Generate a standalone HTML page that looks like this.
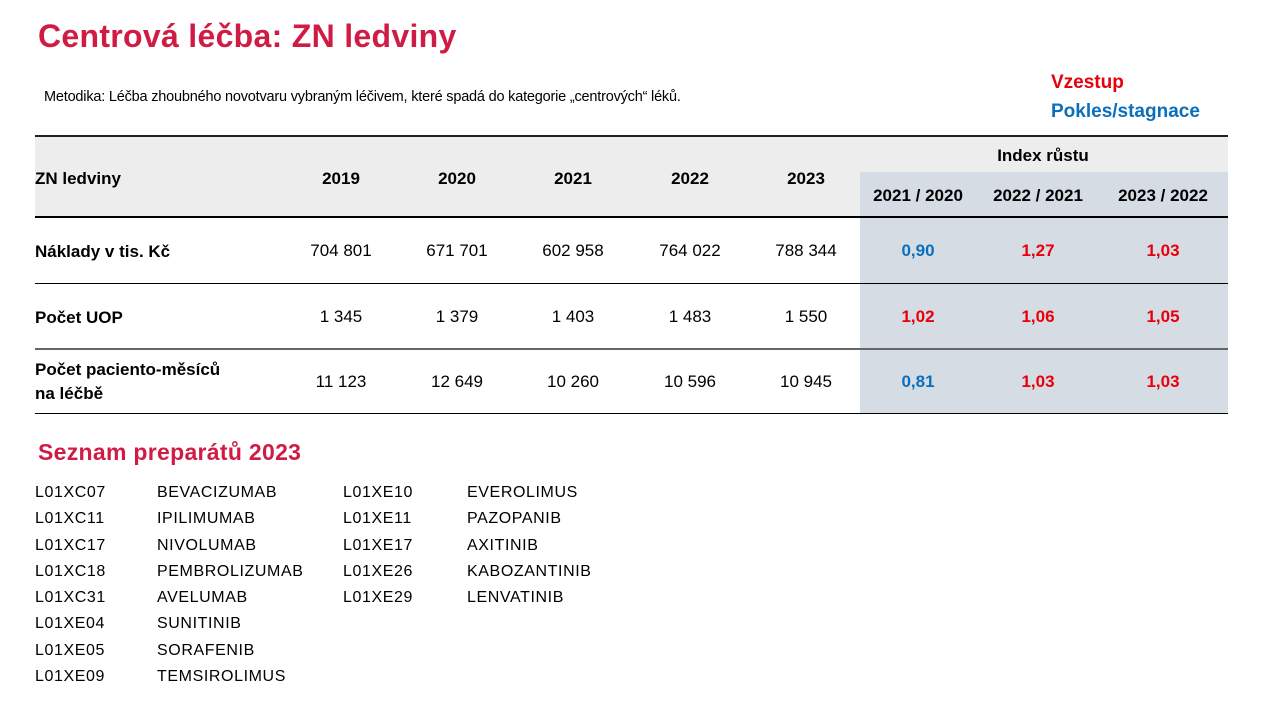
<!DOCTYPE html>
<html><head><meta charset="utf-8"><style>
body{margin:0;width:1280px;height:720px;background:#fff;position:relative;overflow:hidden;font-family:"Liberation Sans",sans-serif;color:#000}
div{position:absolute}
.c{width:130px;text-align:center;height:24px;line-height:24px;font-size:17px}
.b{font-weight:bold}
.red{color:#e8000b}.blue{color:#0a6fbd}
.l{left:35px;font-size:16px;font-weight:bold;line-height:24px}
.d{font-size:16px;height:26px;line-height:26.3px;letter-spacing:0.6px}
</style></head><body>
<div style="left:38px;top:18px;font-size:32px;font-weight:bold;color:#d01c44;letter-spacing:0.3px">Centrová léčba: ZN ledviny</div>
<div style="left:44px;top:89px;font-size:14.5px;letter-spacing:-0.2px">Metodika: Léčba zhoubného novotvaru vybraným léčivem, které spadá do kategorie „centrových“ léků.</div>
<div style="left:1051px;top:72px;font-size:19px;font-weight:bold;color:#e8000b">Vzestup</div>
<div style="left:1051px;top:101px;font-size:19px;font-weight:bold;color:#0a6fbd">Pokles/stagnace</div>

<div style="left:35px;top:136px;width:1193px;height:81px;background:#ededed"></div>
<div style="left:860px;top:172px;width:368px;height:242px;background:#d6dce4"></div>
<div style="left:35px;top:135px;width:1193px;height:2px;background:#222"></div>
<div style="left:35px;top:216px;width:1193px;height:2px;background:#000"></div>
<div style="left:35px;top:283px;width:1193px;height:1px;background:#000"></div>
<div style="left:35px;top:348px;width:1193px;height:2px;background:#666"></div>
<div style="left:35px;top:413px;width:1193px;height:1px;background:#000"></div>

<div class="l" style="top:167px;font-size:17px">ZN ledviny</div>
<div class="c b" style="left:276px;top:167px">2019</div>
<div class="c b" style="left:392px;top:167px">2020</div>
<div class="c b" style="left:508px;top:167px">2021</div>
<div class="c b" style="left:625px;top:167px">2022</div>
<div class="c b" style="left:741px;top:167px">2023</div>
<div class="c b" style="left:978px;top:144px">Index růstu</div>
<div class="c b" style="left:853px;top:184px">2021 / 2020</div>
<div class="c b" style="left:973px;top:184px">2022 / 2021</div>
<div class="c b" style="left:1098px;top:184px">2023 / 2022</div>

<div class="l" style="top:240px;font-size:17px">Náklady v tis. Kč</div>
<div class="c" style="left:276px;top:239px">704 801</div>
<div class="c" style="left:392px;top:239px">671 701</div>
<div class="c" style="left:508px;top:239px">602 958</div>
<div class="c" style="left:625px;top:239px">764 022</div>
<div class="c" style="left:741px;top:239px">788 344</div>
<div class="c b blue" style="left:853px;top:239px">0,90</div>
<div class="c b red" style="left:973px;top:239px">1,27</div>
<div class="c b red" style="left:1098px;top:239px">1,03</div>

<div class="l" style="top:306px;font-size:17px">Počet UOP</div>
<div class="c" style="left:276px;top:305px">1 345</div>
<div class="c" style="left:392px;top:305px">1 379</div>
<div class="c" style="left:508px;top:305px">1 403</div>
<div class="c" style="left:625px;top:305px">1 483</div>
<div class="c" style="left:741px;top:305px">1 550</div>
<div class="c b red" style="left:853px;top:305px">1,02</div>
<div class="c b red" style="left:973px;top:305px">1,06</div>
<div class="c b red" style="left:1098px;top:305px">1,05</div>

<div class="l" style="top:358px;font-size:17px">Počet paciento-měsíců<br>na léčbě</div>
<div class="c" style="left:276px;top:370px">11 123</div>
<div class="c" style="left:392px;top:370px">12 649</div>
<div class="c" style="left:508px;top:370px">10 260</div>
<div class="c" style="left:625px;top:370px">10 596</div>
<div class="c" style="left:741px;top:370px">10 945</div>
<div class="c b blue" style="left:853px;top:370px">0,81</div>
<div class="c b red" style="left:973px;top:370px">1,03</div>
<div class="c b red" style="left:1098px;top:370px">1,03</div>

<div style="left:38px;top:439px;font-size:23px;font-weight:bold;color:#d01c44;letter-spacing:0.3px">Seznam preparátů 2023</div>
<div class="d" style="left:35px;top:480px">L01XC07<br>L01XC11<br>L01XC17<br>L01XC18<br>L01XC31<br>L01XE04<br>L01XE05<br>L01XE09</div>
<div class="d" style="left:157px;top:480px">BEVACIZUMAB<br>IPILIMUMAB<br>NIVOLUMAB<br>PEMBROLIZUMAB<br>AVELUMAB<br>SUNITINIB<br>SORAFENIB<br>TEMSIROLIMUS</div>
<div class="d" style="left:343px;top:480px">L01XE10<br>L01XE11<br>L01XE17<br>L01XE26<br>L01XE29</div>
<div class="d" style="left:467px;top:480px">EVEROLIMUS<br>PAZOPANIB<br>AXITINIB<br>KABOZANTINIB<br>LENVATINIB</div>
</body></html>
